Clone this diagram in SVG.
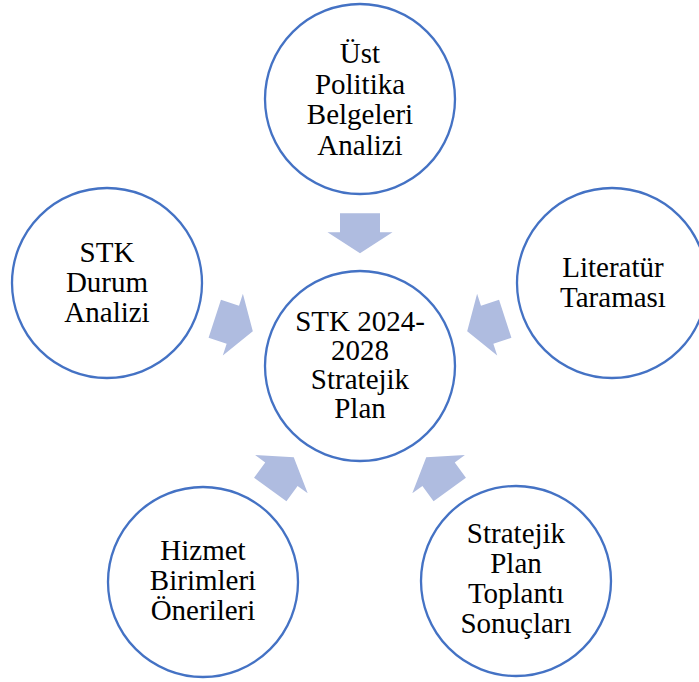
<svg xmlns="http://www.w3.org/2000/svg" width="699" height="682" viewBox="0 0 699 682">
  <style>
    .node circle { fill: #ffffff; stroke: #4472C4; stroke-width: 2.3; }
    .node text { font-family: "Liberation Serif", "Times New Roman", serif; font-size: 29px; fill: #000000; text-anchor: middle; }
    .arrow { fill: #AFBCE0; }
  </style>
  <defs>
    <polygon id="arr" points="340,213.3 380,213.3 380,232.3 392.5,232.3 360,253.3 327.5,232.3 340,232.3"/>
  </defs>
  <rect width="699" height="682" fill="#ffffff"/>
  <g id="connectors">
    <use href="#arr" class="arrow" transform="rotate(0 360 366)"/>
    <use href="#arr" class="arrow" transform="rotate(72 360 366)"/>
    <use href="#arr" class="arrow" transform="rotate(144 360 366)"/>
    <use href="#arr" class="arrow" transform="rotate(216 360 366)"/>
    <use href="#arr" class="arrow" transform="rotate(288 360 366)"/>
  </g>
  <g id="center" class="node">
    <circle cx="360" cy="366" r="95"/>
    <text x="360" y="331">STK 2024-</text>
    <text x="360" y="360">2028</text>
    <text x="360" y="389">Stratejik</text>
    <text x="360" y="418">Plan</text>
  </g>
  <g id="ust-politika" class="node">
    <circle cx="360" cy="99" r="95"/>
    <text x="360" y="63">Üst</text>
    <text x="360" y="93.5">Politika</text>
    <text x="360" y="124">Belgeleri</text>
    <text x="360" y="154.5">Analizi</text>
  </g>
  <g id="literatur" class="node">
    <circle cx="612" cy="283" r="95"/>
    <text x="613" y="277">Literatür</text>
    <text x="613" y="307">Taraması</text>
  </g>
  <g id="stratejik-plan-toplanti" class="node">
    <circle cx="516" cy="581" r="95"/>
    <text x="516" y="543">Stratejik</text>
    <text x="516" y="572.5">Plan</text>
    <text x="516" y="603">Toplantı</text>
    <text x="516" y="633">Sonuçları</text>
  </g>
  <g id="hizmet-birimleri" class="node">
    <circle cx="203" cy="582" r="95"/>
    <text x="203" y="559.5">Hizmet</text>
    <text x="203" y="589.5">Birimleri</text>
    <text x="203" y="619.5">Önerileri</text>
  </g>
  <g id="stk-durum" class="node">
    <circle cx="107" cy="283" r="95"/>
    <text x="107" y="262">STK</text>
    <text x="107" y="292">Durum</text>
    <text x="107" y="322">Analizi</text>
  </g>
</svg>
